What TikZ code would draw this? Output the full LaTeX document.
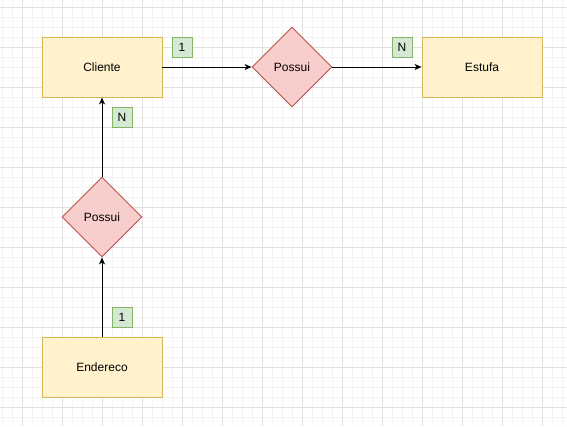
\documentclass[tikz,border=0pt]{standalone}
\usepackage{fontspec}
\setmainfont{Liberation Sans}
\usetikzlibrary{shapes.geometric,arrows.meta}
\definecolor{entfill}{HTML}{FFF2CC}
\definecolor{entdraw}{HTML}{D6B656}
\definecolor{relfill}{HTML}{F8CECC}
\definecolor{reldraw}{HTML}{B85450}
\definecolor{badfill}{HTML}{D5E8D4}
\definecolor{baddraw}{HTML}{82B366}
\definecolor{gridminor}{HTML}{F3F3F3}
\definecolor{gridmajor}{HTML}{E0E0E0}
\tikzset{
  entity/.style={draw=entdraw,fill=entfill,line width=0.9pt,minimum width=120pt,minimum height=60pt,inner sep=0pt,font=\fontsize{12}{14}\selectfont},
  relation/.style={draw=reldraw,fill=relfill,line width=0.9pt,diamond,minimum width=80pt,minimum height=80pt,inner sep=0pt,aspect=1,font=\fontsize{12}{14}\selectfont},
  badge/.style={draw=baddraw,fill=badfill,line width=0.9pt,minimum width=20pt,minimum height=20pt,inner sep=0pt,font=\fontsize{12}{14}\selectfont},
  conn/.style={draw=black,line width=0.9pt,-{Stealth[length=7pt,width=6pt,inset=2pt]}}
}
\begin{document}
\begin{tikzpicture}[x=1pt,y=-1pt]
\useasboundingbox (0,0) rectangle (567,426);
\fill[white] (0,0) rectangle (567,426);
\foreach \i in {0,...,56} {\draw[gridminor,line width=0.8pt] (2.5+10*\i,0) -- (2.5+10*\i,426);}
\foreach \j in {0,...,42} {\draw[gridminor,line width=0.8pt] (0,7+10*\j) -- (567,7+10*\j);}
\foreach \i in {0,...,14} {\draw[gridmajor,line width=0.8pt] (22.5+40*\i,0) -- (22.5+40*\i,426);}
\foreach \j in {0,...,10} {\draw[gridmajor,line width=0.8pt] (0,7+40*\j) -- (567,7+40*\j);}
\node[entity] (cliente) at (102,67) {Cliente};
\node[entity] (estufa) at (482,67) {Estufa};
\node[entity] (endereco) at (102,367) {Endereco};
\node[relation] (possui1) at (292,67) {Possui};
\node[relation] (possui2) at (102,217) {Possui};
\node[badge] (b1) at (182,47) {1};
\node[badge] (b2) at (402,47) {N};
\node[badge] (b3) at (122,117) {N};
\node[badge] (b4) at (122,317) {1};
\draw[conn] (cliente) -- (possui1);
\draw[conn] (possui1) -- (estufa);
\draw[conn] (possui2) -- (cliente);
\draw[conn] (endereco) -- (possui2);
\end{tikzpicture}
\end{document}
